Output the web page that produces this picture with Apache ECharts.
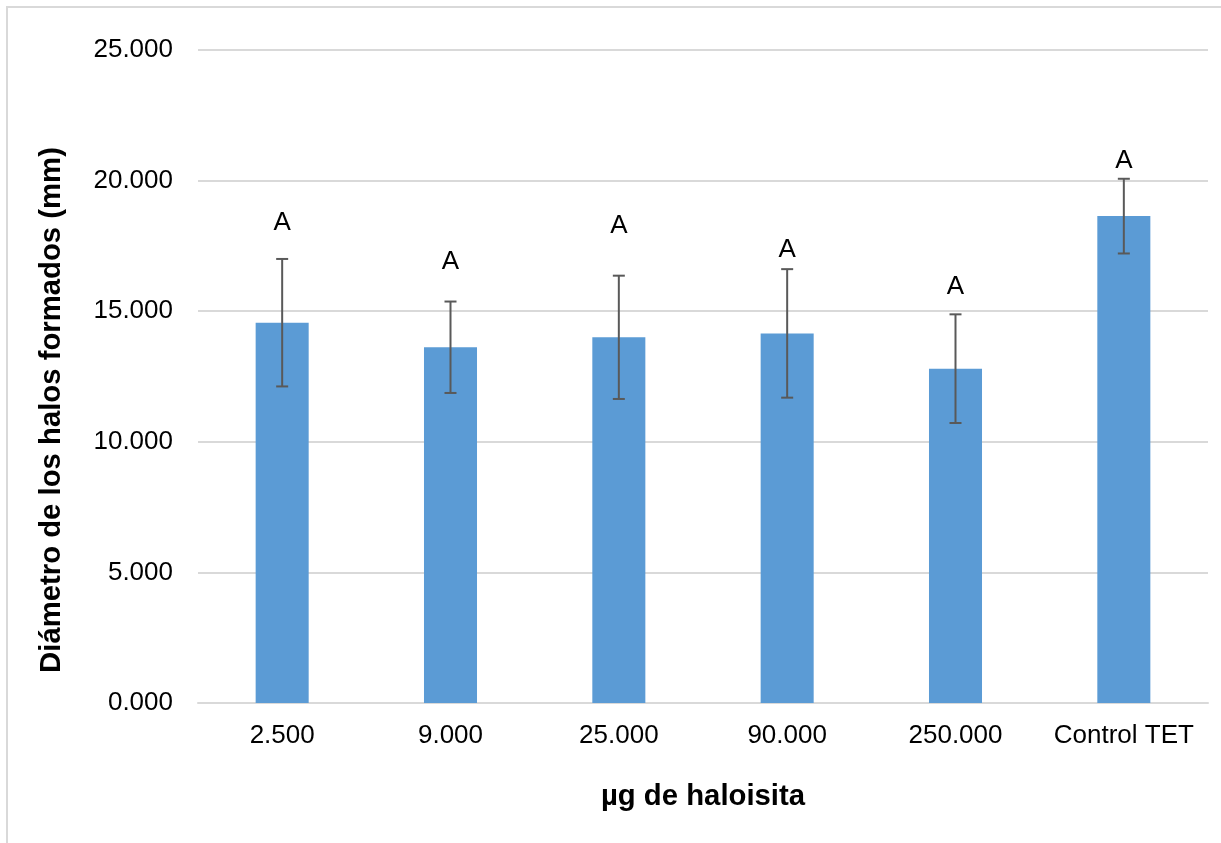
<!DOCTYPE html>
<html>
<head>
<meta charset="utf-8">
<script src="https://cdn.jsdelivr.net/npm/echarts@6/dist/echarts.min.js"></script>
<style>
  html, body { margin: 0; padding: 0; background: #fff; }
  #chart { width: 1221px; height: 843px; }
</style>
</head>
<body>
<div id="chart"></div>
<script>
// Halo diameter by amount of halloysite
const categories = ['2.500', '9.000', '25.000', '90.000', '250.000', 'Control TET'];
const meanDiameter = [14.56, 13.62, 14.00, 14.15, 12.80, 18.64];
const stdError = [2.44, 1.75, 2.36, 2.46, 2.08, 1.43];
const groupLetters = ['A', 'A', 'A', 'A', 'A', 'A'];
const letterHeight = [18.38, 16.90, 18.26, 17.34, 15.94, 20.76];
const yTitle = 'Diámetro de los halos formados (mm)';
const xTitle = 'µg de haloisita';

const FONT = '"Liberation Sans", Arial, sans-serif';

const chart = echarts.init(document.getElementById('chart'), null, { renderer: 'canvas' });

const errorData = categories.map((c, i) => [i, meanDiameter[i] - stdError[i], meanDiameter[i] + stdError[i]]);
const letterData = categories.map((c, i) => [i, letterHeight[i], groupLetters[i]]);

chart.setOption({
  backgroundColor: '#ffffff',
  animation: false,
  graphic: [
    {
      type: 'rect',
      silent: true,
      shape: { x: 7, y: 7, width: 1400, height: 1000 },
      style: { fill: 'none', stroke: '#d9d9d9', lineWidth: 2 }
    },
    {
      type: 'text',
      silent: true,
      x: 52,
      y: 410,
      rotation: Math.PI / 2,
      style: {
        text: yTitle,
        fontFamily: FONT,
        fontSize: 29.3,
        fontWeight: 'bold',
        fill: '#000',
        align: 'center',
        verticalAlign: 'middle'
      }
    }
  ],
  grid: { left: 198, right: 13, top: 50, bottom: 140, containLabel: false },
  xAxis: {
    type: 'category',
    data: categories,
    name: xTitle,
    nameLocation: 'middle',
    nameGap: 79,
    nameTextStyle: { fontFamily: FONT, fontSize: 29.3, fontWeight: 'bold', color: '#000' },
    axisLine: { show: true, lineStyle: { color: '#d9d9d9', width: 2 } },
    axisTick: { show: false },
    axisLabel: { interval: 0, fontFamily: FONT, fontSize: 26, color: '#000', margin: 20 }
  },
  yAxis: {
    type: 'value',
    min: 0,
    max: 25,
    interval: 5,
    axisLine: { show: false },
    axisTick: { show: false },
    splitLine: { lineStyle: { color: '#d9d9d9', width: 2 } },
    axisLabel: {
      fontFamily: FONT, fontSize: 26, color: '#000', margin: 25,
      formatter: v => v.toFixed(3)
    }
  },
  series: [
    {
      type: 'bar',
      data: meanDiameter,
      barWidth: '31.5%',
      itemStyle: { color: '#5b9bd5' },
      z: 2
    },
    {
      type: 'custom',
      data: errorData,
      z: 3,
      renderItem: function (params, api) {
        const lo = api.coord([api.value(0), api.value(1)]);
        const hi = api.coord([api.value(0), api.value(2)]);
        const x = lo[0];
        const cap = 6;
        const style = { stroke: '#595959', lineWidth: 2 };
        return {
          type: 'group',
          children: [
            { type: 'line', shape: { x1: x, y1: hi[1], x2: x, y2: lo[1] }, style },
            { type: 'line', shape: { x1: x - cap, y1: hi[1], x2: x + cap, y2: hi[1] }, style },
            { type: 'line', shape: { x1: x - cap, y1: lo[1], x2: x + cap, y2: lo[1] }, style }
          ]
        };
      }
    },
    {
      type: 'custom',
      data: letterData,
      z: 4,
      renderItem: function (params, api) {
        const p = api.coord([api.value(0), api.value(1)]);
        return {
          type: 'text',
          x: p[0],
          y: p[1],
          style: {
            text: groupLetters[params.dataIndex],
            fontFamily: FONT,
            fontSize: 26,
            fill: '#000',
            align: 'center',
            verticalAlign: 'middle'
          }
        };
      }
    }
  ]
});
</script>
</body>
</html>
